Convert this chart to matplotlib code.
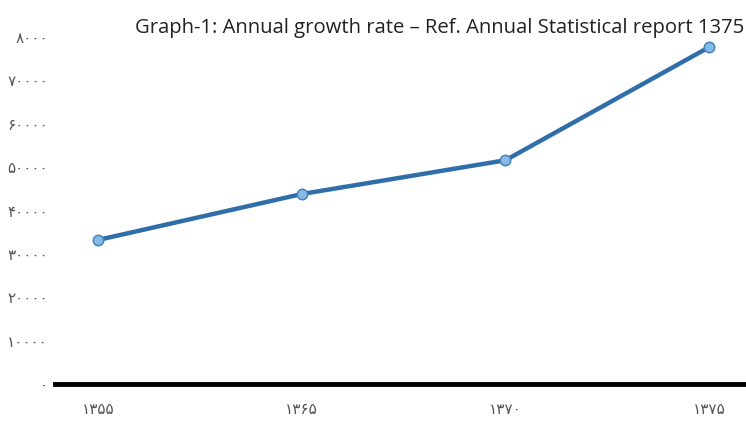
import matplotlib
matplotlib.use("Agg")
import matplotlib.pyplot as plt

# data
years = ["۱۳۵۵", "۱۳۶۵", "۱۳۷۰", "۱۳۷۵"]
values = [33200, 43800, 51600, 77700]
ytick_values = [0, 10000, 20000, 30000, 40000, 50000, 60000, 70000, 80000]
ytick_labels = ["۰", "۱۰۰۰۰", "۲۰۰۰۰", "۳۰۰۰۰", "۴۰۰۰۰", "۵۰۰۰۰", "۶۰۰۰۰", "۷۰۰۰۰", "۸۰۰۰"]
title = "Graph-1: Annual growth rate – Ref. Annual Statistical report 1375"

fig = plt.figure(figsize=(7.46, 4.21), dpi=100)
ax = fig.add_axes([0.0737, 0.0879, 0.9263, 0.824])

x = list(range(len(years)))
ax.plot(x, values, color="#2f6ea9", lw=3.2, solid_capstyle="round", zorder=2,
        marker="o", markersize=7.5, markerfacecolor="#86bbe6",
        markeredgecolor="#4582bf", markeredgewidth=1.1, clip_on=False)

ax.set_xlim(-0.21, 3.18)
ax.set_ylim(0, 80000)

for side in ["top", "right", "left"]:
    ax.spines[side].set_visible(False)
ax.spines["bottom"].set_linewidth(3.5)
ax.spines["bottom"].set_color("black")

ax.set_xticks(x)
ax.set_xticklabels(years, family="DejaVu Sans", fontsize=11, color="#555555")
ax.set_yticks(ytick_values)
ax.set_yticklabels(ytick_labels, family="DejaVu Sans", fontsize=11, color="#555555")
ax.tick_params(axis="x", length=0, pad=13)
ax.tick_params(axis="y", length=0, pad=5)

fig.text(0.998, 0.933, title, ha="right", va="center", fontsize=14.6,
         family="Open Sans", color="#222222")

fig.savefig("out.png", dpi=100)
